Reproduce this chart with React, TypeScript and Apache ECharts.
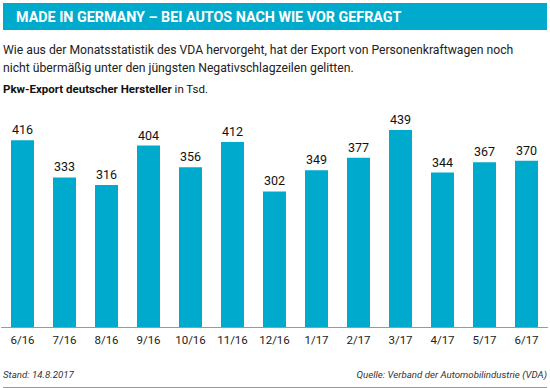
import React, { useEffect, useRef } from "react";
import * as echarts from "echarts";

const categories = ["6/16", "7/16", "8/16", "9/16", "10/16", "11/16", "12/16", "1/17", "2/17", "3/17", "4/17", "5/17", "6/17"];
const values = [416, 333, 316, 404, 356, 412, 302, 349, 377, 439, 344, 367, 370];

const titleText = "MADE IN GERMANY – BEI AUTOS NACH WIE VOR GEFRAGT";
const introLine1 = "Wie aus der Monatsstatistik des VDA hervorgeht, hat der Export von Personenkraftwagen noch";
const introLine2 = "nicht übermäßig unter den jüngsten Negativschlagzeilen gelitten.";
const unitBold = "Pkw-Export deutscher Hersteller";
const unitNormal = " in Tsd.";
const standText = "Stand: 14.8.2017";
const sourceText = "Quelle: Verband der Automobilindustrie (VDA)";

const FONT = "Roboto, 'DejaVu Sans', sans-serif";
const BLUE = "#00AACD";

export default function App() {
  const ref = useRef<HTMLDivElement>(null);
  useEffect(() => {
    if (!ref.current) return;
    const chart = echarts.init(ref.current, null, { renderer: "svg" });
    chart.setOption({
      animation: false,
      grid: { left: 1.5, right: 2.5, top: 102.5, bottom: 61, containLabel: false },
      xAxis: {
        type: "category",
        data: categories,
        axisLine: { lineStyle: { color: "#999", width: 1 } },
        axisTick: { show: false },
        axisLabel: { color: "#222", fontFamily: FONT, fontSize: 11.5, margin: 7 },
      },
      yAxis: { type: "value", min: 0, max: 500, show: false, splitLine: { show: false } },
      series: [
        {
          type: "bar",
          data: values,
          barWidth: 23,
          itemStyle: { color: BLUE },
          label: { show: true, position: "top", distance: 4, color: "#111", fontFamily: FONT, fontSize: 12.5 },
        },
      ],
      graphic: [
        { type: "rect", shape: { x: 3, y: 3, width: 544, height: 27 }, style: { fill: BLUE } },
        {
          type: "text",
          x: 16,
          y: 16.5,
          style: { text: titleText, fill: "#fff", font: `bold 14.3px ${FONT}`, textVerticalAlign: "middle" },
        },
        {
          type: "text",
          x: 3,
          y: 50,
          style: { text: introLine1, fill: "#222", font: `12.2px ${FONT}`, textVerticalAlign: "middle" },
        },
        {
          type: "text",
          x: 3,
          y: 68,
          style: { text: introLine2, fill: "#222", font: `12.2px ${FONT}`, textVerticalAlign: "middle" },
        },
        {
          type: "text",
          x: 3,
          y: 89,
          style: {
            text: `{b|${unitBold}}{n|${unitNormal}}`,
            textVerticalAlign: "middle",
            rich: {
              b: { fontFamily: FONT, fontSize: 11.5, fontWeight: "bold", fill: "#111", color: "#111" },
              n: { fontFamily: FONT, fontSize: 11.5, fill: "#111", color: "#111" },
            },
          },
        },
        {
          type: "text",
          x: 3,
          y: 374,
          style: { text: standText, fill: "#333", font: `italic 9.7px ${FONT}`, textVerticalAlign: "middle" },
        },
        {
          type: "text",
          x: 547,
          y: 374,
          style: { text: sourceText, fill: "#333", font: `italic 9.7px ${FONT}`, textAlign: "right", textVerticalAlign: "middle" },
        },
        { type: "line", shape: { x1: 3, y1: 387.5, x2: 547, y2: 387.5 }, style: { stroke: "#999", lineWidth: 1 } },
      ],
    });
    return () => chart.dispose();
  }, []);
  return <div ref={ref} style={{ width: 550, height: 388, position: "absolute", left: 0, top: 0 }} />;
}
